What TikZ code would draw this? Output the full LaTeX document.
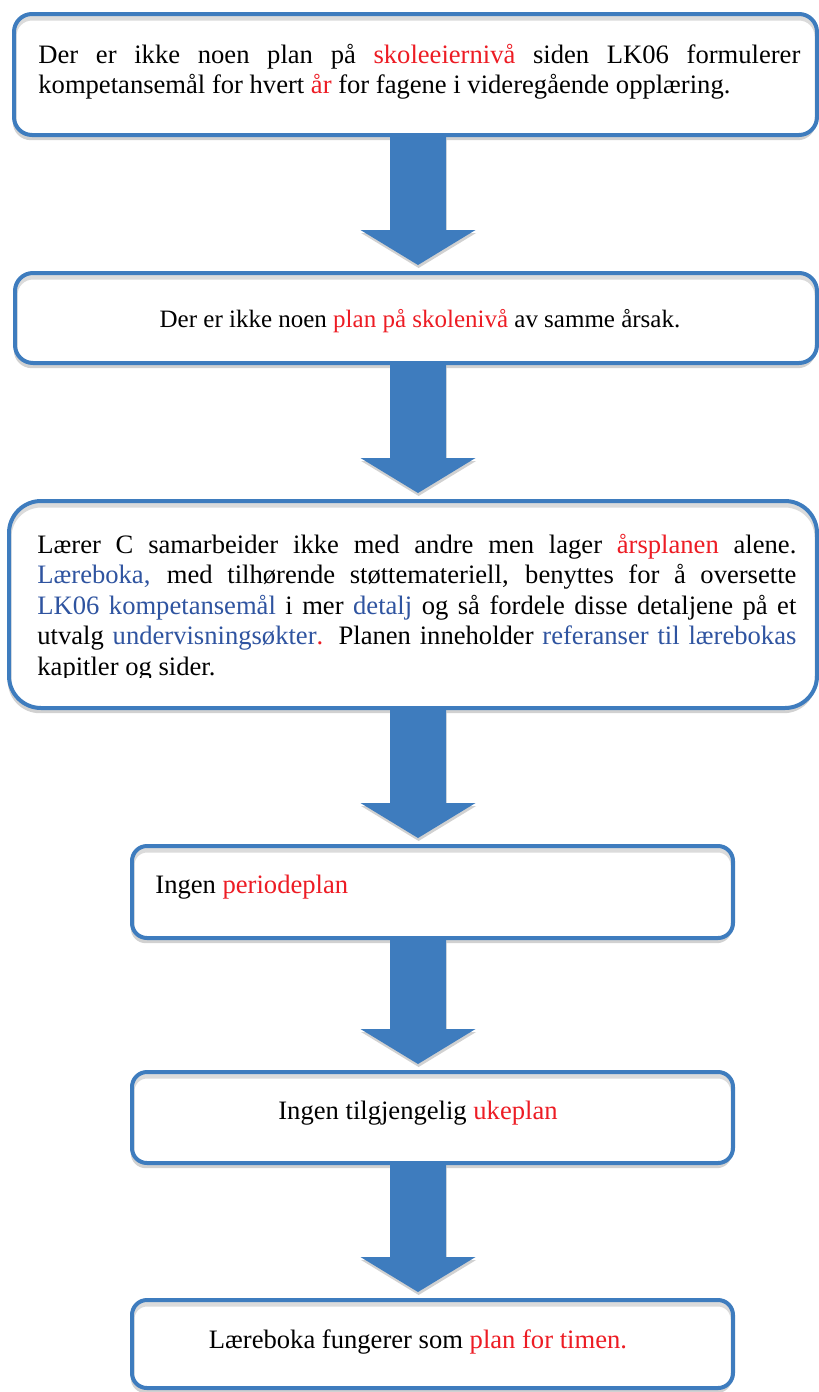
\documentclass[tikz,border=0pt]{standalone}
\usepackage{fontspec}
\setmainfont{Liberation Serif}
\usetikzlibrary{calc,shadows}
\definecolor{boxblue}{RGB}{62,124,190}
\definecolor{hlred}{RGB}{237,28,36}
\definecolor{hlblue}{RGB}{47,84,160}
\newcommand{\hred}[1]{\textcolor{hlred}{#1}}
\newcommand{\hblue}[1]{\textcolor{hlblue}{#1}}
\newcommand{\planarrow}[2]{\fill[blockarrow] ($(#1.south -| ax)+(-28,0)$) -- ($(#2.north -| ax)+(-28,-41)$) -- ($(#2.north -| ax)+(-57.5,-41)$) -- ($(#2.north -| ax)+(0,-6)$) -- ($(#2.north -| ax)+(57.5,-41)$) -- ($(#2.north -| ax)+(28,-41)$) -- ($(#1.south -| ax)+(28,0)$) -- cycle;}
\tikzset{
	planbox/.style={draw=boxblue, line width=2pt, fill=white, rounded corners=#1, inner sep=0pt,
		drop shadow={shadow xshift=-0.6pt, shadow yshift=-2.6pt, fill=black!18, opacity=1},
		path picture={\draw[black!14, line width=2.5pt, rounded corners=#1] ([yshift=-2pt]path picture bounding box.north west) rectangle ([yshift=-2pt]path picture bounding box.south east);}},
	planbox/.default=8pt,
	plantext/.style={inner sep=0pt, font=\fontsize{13.3}{15.25}\selectfont},
	blocktext/.style={plantext, align=justify, text width=#1},
	blockarrow/.style={fill=boxblue, drop shadow={shadow xshift=0.3pt, shadow yshift=-1.5pt, fill=black!18, opacity=1}}
}
\hyphenpenalty=10000
\exhyphenpenalty=10000
\tolerance=10000

\begin{document}
\begin{tikzpicture}[x=0.5pt, y=-0.5pt]
			%%%%% START %%%%%
			\useasboundingbox (0,0) rectangle (819,1392);
			\coordinate (ax) at (418,0);
			
			\node[planbox=9pt, minimum width=401.5pt, minimum height=60.5pt] (b1) at (415.5,74.5) {};
			\node[planbox=9pt, minimum width=401pt, minimum height=45pt] (b2) at (416,318) {};
			\node[planbox=16pt, minimum width=404pt, minimum height=103.5pt] (b3) at (413,604.5) {};
			\node[planbox=7.5pt, minimum width=300.5pt, minimum height=46pt] (b4) at (432.5,892) {};
			\node[planbox=7.5pt, minimum width=300.5pt, minimum height=45.5pt] (b5) at (432.5,1117.5) {};
			\node[planbox=7.5pt, minimum width=300.5pt, minimum height=44pt] (b6) at (432.5,1344) {};
			
			\node[blocktext=381pt, anchor=base west] (t1) at (38,63) {Der er ikke noen plan på \hred{skoleeiernivå} siden LK06 formulerer\linebreak kompetansemål for hvert \hred{år} for fagene i videregående opplæring.};
			\node[plantext, font=\fontsize{12.5}{15}\selectfont, anchor=base] (t2) at (420,327) {Der er ikke noen \hred{plan på skolenivå} av samme årsak.};
			% text frame of the third box cuts the last line
			\begin{scope}
				\clip (0,499) rectangle (819,677);
				\node[blocktext=379.5pt, anchor=base west] (t3) at (37,553) {Lærer C samarbeider ikke med andre men lager \hred{årsplanen} alene.\linebreak \hblue{Læreboka,} med tilhørende støttemateriell, benyttes for å oversette\linebreak \hblue{LK06 kompetansemål} i mer \hblue{detalj} og så fordele disse detaljene på et\linebreak utvalg \hblue{undervisningsøkter}\hred{.} Planen inneholder \hblue{referanser til lærebokas}\linebreak kapitler og sider.};
			\end{scope}
			\node[plantext, anchor=base west] (t4) at (155,893) {Ingen \hred{periodeplan}};
			\node[plantext, anchor=base] (t5) at (418,1119) {Ingen tilgjengelig \hred{ukeplan}};
			\node[plantext, anchor=base] (t6) at (418,1348) {Læreboka fungerer som \hred{plan for timen.}};
			
			% block arrows between the levels
			\planarrow{b1}{b2}
			\planarrow{b2}{b3}
			\planarrow{b3}{b4}
			\planarrow{b4}{b5}
			\planarrow{b5}{b6}
			%%%%% END %%%%%
\end{tikzpicture}
\end{document}
